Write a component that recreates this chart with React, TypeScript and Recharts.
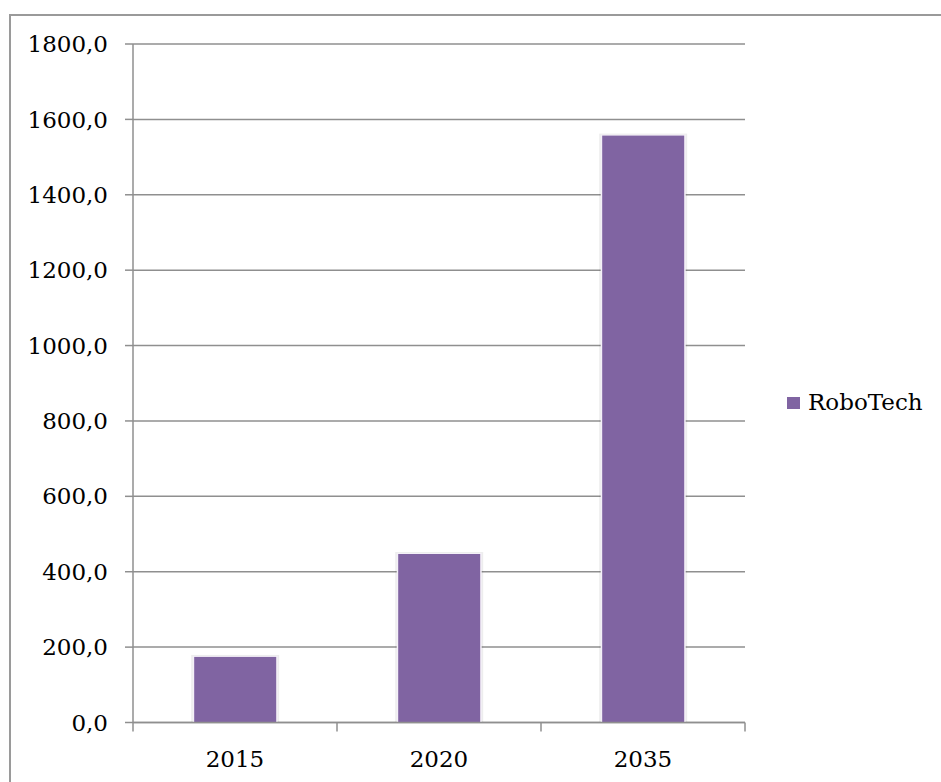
import { BarChart, Bar, XAxis, YAxis, CartesianGrid, Legend } from 'recharts';

const years = ['2015', '2020', '2035'];
const roboTech = [174, 447, 1557];
const yTicks = [0, 200, 400, 600, 800, 1000, 1200, 1400, 1600, 1800];

const data = years.map((year, i) => ({ year, roboTech: roboTech[i] }));

const FONT = '"DejaVu Serif", serif';
const PURPLE = '#8064A2';
const GRID = '#8f8f8f';
const TICK_MARGIN = 28;

const fmt = (v: number) => v.toFixed(1).replace('.', ',');

function BarShape(props: any) {
  const { x, y, width, height } = props;
  if (!height || height <= 0) return null;
  return (
    <g>
      <rect x={x - 3} y={y - 2} width={width + 6} height={height + 2} fill="rgba(0,0,0,0.07)" />
      <rect x={x - 1.5} y={y - 1} width={width + 3} height={height + 1} fill="#f4f0f8" />
      <rect x={x} y={y} width={width} height={height} fill={PURPLE} />
    </g>
  );
}

// category label plus tick marks on the band edges (Excel style)
function YearTick(props: any) {
  const { x, y, payload, index } = props;
  const half = payload.offset || 0;
  const axisY = y - TICK_MARGIN;
  return (
    <g>
      <line x1={x - half} x2={x - half} y1={axisY} y2={axisY + 9} stroke={GRID} strokeWidth={1.5} />
      {index === years.length - 1 && (
        <line x1={x + half} x2={x + half} y1={axisY} y2={axisY + 9} stroke={GRID} strokeWidth={1.5} />
      )}
      <text x={x} y={y} dy="0.71em" textAnchor="middle" fill="#000" fontSize={23} fontFamily={FONT}>
        {payload.value}
      </text>
    </g>
  );
}

function LegendContent() {
  return (
    <div style={{ display: 'flex', alignItems: 'center', fontFamily: FONT, fontSize: 23, lineHeight: '23px', color: '#000' }}>
      <span style={{ display: 'inline-block', width: 13, height: 12, background: PURPLE, marginRight: 8 }} />
      <span>RoboTech</span>
    </div>
  );
}

export default function App() {
  return (
    <div style={{ position: 'fixed', left: 0, top: 0, width: 941, height: 782, overflow: 'hidden', background: '#fff' }}>
      <div
        style={{
          position: 'absolute',
          left: 9,
          top: 14,
          width: 1000,
          height: 1000,
          border: '2px solid #9a9a9a',
        }}
      />
      <div style={{ position: 'absolute', left: 0, top: 0 }}>
        <BarChart
          width={941}
          height={782}
          data={data}
          margin={{ top: 44, right: 46, bottom: 19.5, left: 0 }}
          barCategoryGap="30%"
        >
          <CartesianGrid horizontal vertical={false} stroke={GRID} strokeWidth={1.5} />
          <XAxis
            dataKey="year"
            height={40}
            tickLine={false}
            tickSize={0}
            tickMargin={TICK_MARGIN}
            axisLine={{ stroke: GRID, strokeWidth: 1.5 }}
            tick={<YearTick />}
            interval={0}
          />
          <YAxis
            width={133}
            domain={[0, 1800]}
            ticks={yTicks}
            tickFormatter={fmt}
            tickSize={8}
            tickMargin={17}
            tickLine={{ stroke: GRID, strokeWidth: 1.5 }}
            axisLine={{ stroke: GRID, strokeWidth: 1.5 }}
            tick={{ fill: '#000', fontSize: 23, fontFamily: FONT }}
            interval={0}
          />
          <Legend
            layout="vertical"
            align="right"
            verticalAlign="top"
            content={<LegendContent />}
            wrapperStyle={{ left: 787, top: 391, width: 150 }}
          />
          <Bar dataKey="roboTech" name="RoboTech" fill={PURPLE} shape={BarShape} isAnimationActive={false} />
        </BarChart>
      </div>
    </div>
  );
}
